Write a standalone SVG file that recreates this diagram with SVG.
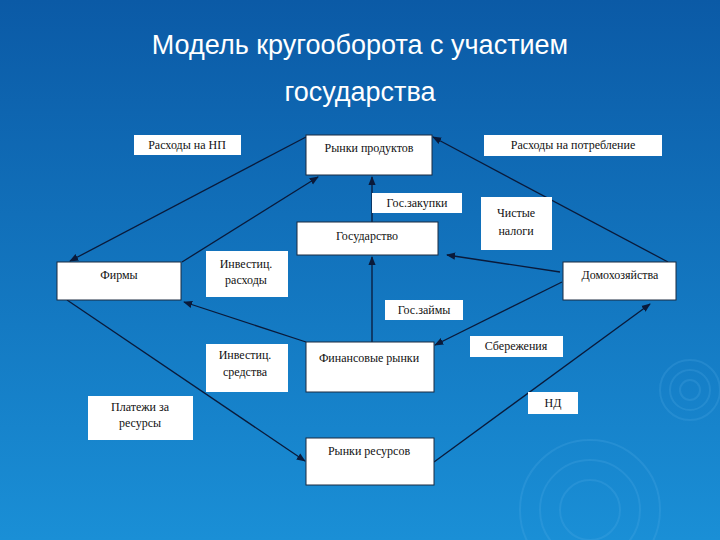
<svg xmlns="http://www.w3.org/2000/svg" width="720" height="540" viewBox="0 0 720 540">
<defs>
<linearGradient id="bg" x1="0" y1="0" x2="0" y2="1"><stop offset="0" stop-color="#0b5aa6"/><stop offset="1" stop-color="#1a8fd6"/></linearGradient>
<marker id="a" viewBox="0 0 10 10" refX="9" refY="5" markerWidth="7" markerHeight="7" orient="auto"><path d="M0,1 L10,5 L0,9 z" fill="#0a1a3a"/></marker>
<style>
.b{fill:#fff;stroke:#1a2a40;stroke-width:1}
.l{fill:#fff;stroke:none}
.t{font-family:"Liberation Serif","Times New Roman","DejaVu Serif",serif;font-size:12px;fill:#111;text-anchor:middle}
.c{stroke:#0a1a3a;stroke-width:1.3;fill:none;marker-end:url(#a)}
.h{font-family:"Liberation Sans",Arial,sans-serif;font-size:27px;fill:#fff;text-anchor:middle}
</style>
</defs>
<rect width="720" height="540" fill="url(#bg)"/>
<g fill="none" stroke="#5fb3ea" stroke-opacity="0.2" stroke-width="2">
<circle cx="690" cy="390" r="10"/><circle cx="690" cy="390" r="20"/><circle cx="690" cy="390" r="30"/>
<circle cx="590" cy="510" r="30"/><circle cx="590" cy="510" r="50"/><circle cx="590" cy="510" r="70"/>
</g>
<text class="h" x="360" y="54">Модель кругооборота с участием</text>
<text class="h" x="360" y="101">государства</text>
<g id="connectors">
<line class="c" x1="306" y1="137" x2="70" y2="261"/>
<line class="c" x1="182" y1="262" x2="318" y2="177"/>
<line class="c" x1="372" y1="222" x2="372" y2="177"/>
<line class="c" x1="668" y1="262" x2="433" y2="137"/>
<line class="c" x1="560" y1="272" x2="447" y2="255"/>
<line class="c" x1="372" y1="342" x2="372" y2="257"/>
<line class="c" x1="562" y1="282" x2="435" y2="345"/>
<line class="c" x1="306" y1="342" x2="184" y2="302"/>
<line class="c" x1="67" y1="300" x2="305" y2="461"/>
<line class="c" x1="434" y1="462" x2="650" y2="304"/>
</g>
<g id="n1"><rect class="l" x="134" y="135" width="107" height="20"/><text class="t" x="187" y="149">Расходы на НП</text></g>
<g id="n2"><rect class="b" x="306" y="135" width="126" height="40"/><text class="t" x="369" y="152">Рынки продуктов</text></g>
<g id="n3"><rect class="l" x="484" y="135" width="178" height="21"/><text class="t" x="573" y="149">Расходы на потребление</text></g>
<g id="n4"><rect class="l" x="372" y="193" width="90" height="20"/><text class="t" x="417" y="207">Гос.закупки</text></g>
<g id="n5"><rect class="b" x="297" y="222" width="141" height="33"/><text class="t" x="367" y="240">Государство</text></g>
<g id="n6"><rect class="l" x="481" y="197" width="71" height="53"/><text class="t" x="516" y="217">Чистые</text><text class="t" x="516" y="235">налоги</text></g>
<g id="n7"><rect class="b" x="57" y="262" width="124" height="38"/><text class="t" x="119" y="279">Фирмы</text></g>
<g id="n8"><rect class="l" x="206" y="251" width="82" height="46"/><text class="t" x="246" y="268">Инвестиц.</text><text class="t" x="246" y="284">расходы</text></g>
<g id="n9"><rect class="b" x="563" y="262" width="113" height="38"/><text class="t" x="620" y="279">Домохозяйства</text></g>
<g id="n10"><rect class="l" x="385" y="300" width="78" height="20"/><text class="t" x="424" y="314">Гос.займы</text></g>
<g id="n11"><rect class="b" x="306" y="342" width="128" height="50"/><text class="t" x="369" y="362">Финансовые рынки</text></g>
<g id="n12"><rect class="l" x="206" y="344" width="82" height="48"/><text class="t" x="245" y="359">Инвестиц.</text><text class="t" x="245" y="376">средства</text></g>
<g id="n13"><rect class="l" x="470" y="336" width="93" height="21"/><text class="t" x="516" y="350">Сбережения</text></g>
<g id="n14"><rect class="l" x="88" y="396" width="105" height="44"/><text class="t" x="140" y="411">Платежи за</text><text class="t" x="140" y="427">ресурсы</text></g>
<g id="n15"><rect class="l" x="528" y="392" width="50" height="22"/><text class="t" x="553" y="407">НД</text></g>
<g id="n16"><rect class="b" x="306" y="438" width="128" height="47"/><text class="t" x="369" y="455">Рынки ресурсов</text></g>
</svg>
